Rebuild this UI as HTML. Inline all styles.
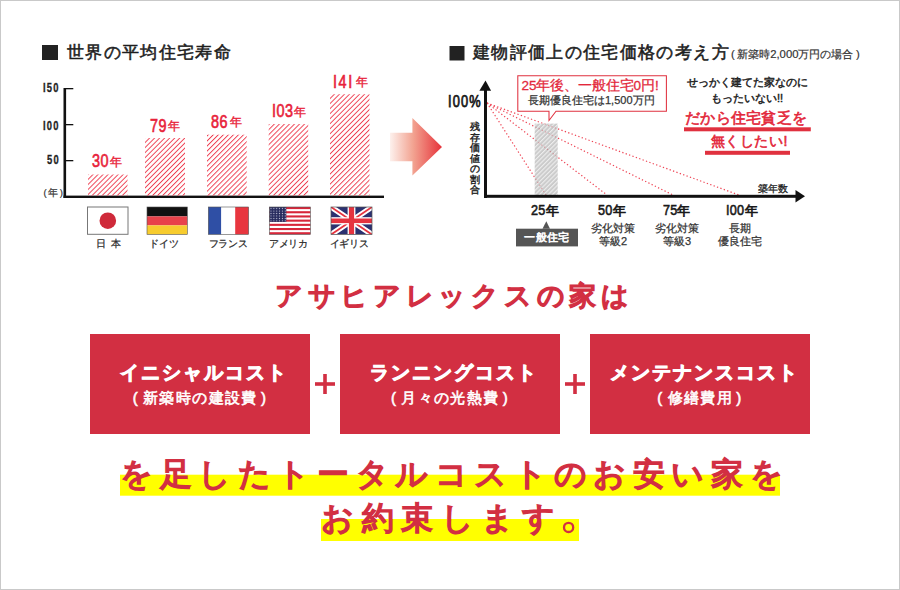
<!DOCTYPE html>
<html lang="ja">
<head>
<meta charset="utf-8">
<style>
html,body{margin:0;padding:0;background:#fff;}
body{width:900px;height:590px;position:relative;overflow:hidden;font-family:"Liberation Sans",sans-serif;}
#frame{position:absolute;left:0;top:0;width:900px;height:590px;box-sizing:border-box;border:1px solid #c9c9c9;}
.t{position:absolute;white-space:nowrap;line-height:1;}
svg{position:absolute;left:0;top:0;}
.red{color:#d22f42;}
.pl{margin-right:4px;font-weight:normal;}
.pr{margin-left:3px;font-weight:normal;}
.dg{font-weight:bold;color:#1e1e1e;-webkit-text-stroke:0.3px currentColor;transform:scaleX(0.75);transform-origin:0 0;}
.dr{font-size:18px;font-weight:normal;-webkit-text-stroke:0.65px currentColor;color:#e8223a;transform:scaleX(0.8);transform-origin:0 0;letter-spacing:0.6px;}
.nen{font-size:12px;color:#e8223a;-webkit-text-stroke:0.4px currentColor;}
.dk{font-size:14.7px;color:#1a1a1a;-webkit-text-stroke:0.6px currentColor;transform:scaleX(0.86);transform-origin:0 0;letter-spacing:0.3px;}
.nk{font-size:13.2px;color:#1a1a1a;-webkit-text-stroke:0.7px currentColor;}
.fl{text-align:center;font-size:9.8px;color:#2a2a2a;-webkit-text-stroke:0.25px currentColor;letter-spacing:-0.3px;}
.b1{-webkit-text-stroke:0.6px currentColor;}
.b2{-webkit-text-stroke:1px currentColor;}
.b3{-webkit-text-stroke:1.7px currentColor;}
</style>
</head>
<body>
<div id="frame"></div>
<svg width="900" height="590" viewBox="0 0 900 590">
  <defs>
    <pattern id="hatch" patternUnits="userSpaceOnUse" width="3.56" height="5" patternTransform="rotate(45)">
      <rect x="0" y="0" width="0.95" height="5" fill="#ee3d50"/>
    </pattern>
    <pattern id="hatchg" patternUnits="userSpaceOnUse" width="3.05" height="5" patternTransform="rotate(45)">
      <rect x="0" y="0" width="3.05" height="5" fill="#b0b0b0"/>
      <rect x="0" y="0" width="1.1" height="5" fill="#e4e4e4"/>
    </pattern>
    <pattern id="stars" patternUnits="userSpaceOnUse" x="269.6" y="207.4" width="2.85" height="2.45">
      <rect x="0" y="0" width="2.85" height="2.45" fill="#272b5e"/>
      <circle cx="1.4" cy="1.2" r="0.62" fill="#c9cbe0"/>
    </pattern>
    <linearGradient id="arrowg" x1="0" y1="0" x2="1" y2="0">
      <stop offset="0" stop-color="#fdf1ed"/>
      <stop offset="0.45" stop-color="#f2a290"/>
      <stop offset="1" stop-color="#e6323a"/>
    </linearGradient>
  </defs>

  <!-- chart 1 squares -->
  <rect x="42" y="45" width="16" height="15" fill="#222"/>
  <rect x="449.5" y="46" width="15" height="14.5" fill="#222"/>

  <!-- chart 1 axes -->
  <rect x="63.5" y="88" width="2.6" height="110" fill="#111"/>
  <rect x="66" y="88" width="7.3" height="1.3" fill="#111"/>
  <rect x="66" y="124" width="7.3" height="1.3" fill="#111"/>
  <rect x="66" y="160" width="7.3" height="1.3" fill="#111"/>
  <rect x="63.5" y="195.6" width="320.5" height="2.4" fill="#111"/>

  <!-- bars -->
  <rect x="88" y="174.5" width="39.5" height="21.1" fill="url(#hatch)"/>
  <rect x="145" y="138" width="40" height="57.6" fill="url(#hatch)"/>
  <rect x="207" y="134.7" width="39.7" height="60.9" fill="url(#hatch)"/>
  <rect x="268.7" y="124" width="39.5" height="71.6" fill="url(#hatch)"/>
  <rect x="330" y="94.2" width="39.5" height="101.4" fill="url(#hatch)"/>

  <!-- flags -->
  <g>
    <rect x="87.5" y="207" width="40.5" height="27.3" fill="#fff" stroke="#777" stroke-width="1"/>
    <circle cx="107.8" cy="220.7" r="8.3" fill="#cf2a3a"/>
  </g>
  <g>
    <rect x="147" y="207" width="40.3" height="9.4" fill="#111"/>
    <rect x="147" y="216.4" width="40.3" height="9" fill="#e8424a"/>
    <rect x="147" y="225.4" width="40.3" height="9" fill="#f7cc2e"/>
    <rect x="147" y="207" width="40.3" height="27.4" fill="none" stroke="#555" stroke-width="0.6"/>
  </g>
  <g>
    <rect x="208.3" y="207" width="13" height="27.4" fill="#2f4fa5"/>
    <rect x="221.3" y="207" width="13.9" height="27.4" fill="#fff"/>
    <rect x="235.2" y="207" width="13.4" height="27.4" fill="#e8363f"/>
    <rect x="208.3" y="207" width="40.3" height="27.4" fill="none" stroke="#555" stroke-width="0.6"/>
  </g>
  <g id="usa">
    <rect x="269.4" y="207" width="41" height="27.4" fill="#fff"/>
    <rect x="269.4" y="207" width="41" height="2.1" fill="#d7263a"/>
    <rect x="269.4" y="211.2" width="41" height="2.1" fill="#d7263a"/>
    <rect x="269.4" y="215.4" width="41" height="2.1" fill="#d7263a"/>
    <rect x="269.4" y="219.6" width="41" height="2.1" fill="#d7263a"/>
    <rect x="269.4" y="223.8" width="41" height="2.1" fill="#d7263a"/>
    <rect x="269.4" y="228" width="41" height="2.1" fill="#d7263a"/>
    <rect x="269.4" y="232.2" width="41" height="2.2" fill="#d7263a"/>
    <rect x="269.4" y="207" width="16.9" height="14.9" fill="url(#stars)"/>
    <rect x="269.4" y="207" width="41" height="27.4" fill="none" stroke="#555" stroke-width="0.6"/>
  </g>
  <g id="uk">
    <clipPath id="ukc"><rect x="331" y="207" width="41" height="27.6"/></clipPath>
    <g clip-path="url(#ukc)">
      <rect x="331" y="207" width="41" height="27.6" fill="#2b3170"/>
      <path d="M331 207 L372 234.6 M372 207 L331 234.6" stroke="#fff" stroke-width="5.5"/>
      <path d="M331 207 L372 234.6 M372 207 L331 234.6" stroke="#e5333f" stroke-width="1.8"/>
      <rect x="331" y="217.2" width="41" height="7.2" fill="#fff"/>
      <rect x="347.6" y="207" width="7.8" height="27.6" fill="#fff"/>
      <rect x="331" y="218.5" width="41" height="4.6" fill="#e5333f"/>
      <rect x="348.9" y="207" width="5.2" height="27.6" fill="#e5333f"/>
    </g>
    <rect x="331" y="207" width="41" height="27.6" fill="none" stroke="#555" stroke-width="0.7"/>
  </g>

  <!-- arrow -->
  <path d="M390 132.7 H412.4 V118 L442 147 L412.4 175.6 V161.2 H390 Z" fill="url(#arrowg)"/>

  <!-- chart 2 -->
  <g stroke="#ee4555" stroke-width="1.2" stroke-dasharray="1.3 2.3" fill="none">
    <line x1="487" y1="103" x2="546" y2="195"/>
    <line x1="487" y1="103" x2="607" y2="195"/>
    <line x1="487" y1="103" x2="673" y2="195"/>
    <line x1="487" y1="103" x2="739" y2="195"/>
  </g>
  <rect x="534.7" y="123.6" width="23" height="72" fill="url(#hatchg)" opacity="0.66"/>
  <rect x="484" y="89" width="3" height="109" fill="#111"/>
  <path d="M479.4 90.8 L485.5 80.6 L491.1 90.8 Z" fill="#111"/>
  <rect x="484" y="194.8" width="314" height="3" fill="#111"/>
  <path d="M795.5 190 L805 196.3 L795.5 202.5 Z" fill="#111"/>

  <!-- callout -->
  <path d="M517.8 75.8 H666.4 V111.3 H556 L549 120.5 V111.3 H517.8 Z" fill="#fff" stroke="#e0313f" stroke-width="1.05"/>

  <!-- gray label -->
  <rect x="516" y="228.7" width="62" height="17.7" fill="#555"/>
  <path d="M542.5 228.8 L546.3 221.3 L550 228.8 Z" fill="#555"/>

  <!-- underlines -->
  <rect x="684" y="127.3" width="126.8" height="4" fill="#e0313f"/>
  <rect x="705" y="150.8" width="85" height="4" fill="#e0313f"/>

  <!-- boxes -->
  <rect x="90" y="334" width="220" height="100" fill="#d22f42"/>
  <rect x="340" y="334" width="220" height="100" fill="#d22f42"/>
  <rect x="590" y="334" width="220" height="100" fill="#d22f42"/>
  <!-- plus -->
  <rect x="315" y="382.2" width="20" height="3.6" fill="#d22f42"/>
  <rect x="323.2" y="374" width="3.6" height="20" fill="#d22f42"/>
  <rect x="565" y="382.2" width="20" height="3.6" fill="#d22f42"/>
  <rect x="573.2" y="374" width="3.6" height="20" fill="#d22f42"/>

  <!-- yellow highlights -->
  <rect x="120" y="474.7" width="660" height="21" fill="#ffff00"/>
  <rect x="321" y="519" width="258" height="22" fill="#ffff00"/>
  <circle cx="568.6" cy="527.4" r="4.6" fill="none" stroke="#d22f42" stroke-width="2.3"/>
</svg>

<!-- titles -->
<div class="t" style="left:67px;top:44px;font-size:17px;letter-spacing:1.35px;color:#1e1e1e;-webkit-text-stroke:0.55px currentColor;">世界の平均住宅寿命</div>
<div class="t" style="left:473px;top:44px;font-size:17px;letter-spacing:1.35px;color:#1e1e1e;-webkit-text-stroke:0.55px currentColor;">建物評価上の住宅価格の考え方<span style="font-size:11.3px;letter-spacing:0;font-weight:normal;-webkit-text-stroke:0.2px currentColor;color:#333;"><span style="margin:0 2.5px 0 1px">(</span>新築時2,000万円の場合<span style="margin-left:2.5px">)</span></span></div>


<!-- chart1 labels -->
<div class="t dg" style="left:42.5px;top:81.5px;font-size:12.5px;letter-spacing:1.6px;">I50</div>
<div class="t dg" style="left:42.5px;top:119.5px;font-size:12.5px;letter-spacing:1.6px;">I00</div>
<div class="t dg" style="left:47.3px;top:153.5px;font-size:12.5px;letter-spacing:1.6px;">50</div>
<div class="t" style="left:43.5px;top:187.5px;font-size:9.5px;color:#333;-webkit-text-stroke:0.2px currentColor;"><span style="margin-right:1.5px">(</span>年<span style="margin-left:1.5px">)</span></div>

<div class="t dr" style="left:92px;top:152.2px;">30</div><div class="t nen" style="left:110px;top:155.8px;">年</div>
<div class="t dr" style="left:150.2px;top:116.8px;">79</div><div class="t nen" style="left:167.8px;top:119.8px;">年</div>
<div class="t dr" style="left:211.3px;top:113px;">86</div><div class="t nen" style="left:229.6px;top:116.2px;">年</div>
<div class="t dr" style="left:271.6px;top:101.8px;">I03</div><div class="t nen" style="left:294px;top:105.6px;">年</div>
<div class="t dr" style="left:333px;top:72.8px;letter-spacing:2px;">I4I</div><div class="t nen" style="left:355.7px;top:75.8px;">年</div>
<div class="t fl" style="left:88.5px;width:41px;top:239px;letter-spacing:1.2px;">日&nbsp;本</div>
<div class="t fl" style="left:143.5px;width:41px;top:239px;">ドイツ</div>
<div class="t fl" style="left:207.5px;width:41px;top:239px;">フランス</div>
<div class="t fl" style="left:268px;width:41px;top:239px;">アメリカ</div>
<div class="t fl" style="left:328.5px;width:41px;top:239px;">イギリス</div>

<!-- chart2 labels -->
<div class="t" style="left:447.5px;top:93.6px;font-size:15.6px;letter-spacing:1.4px;-webkit-text-stroke:0.75px #1a1a1a;color:#1a1a1a;transform:scaleX(0.82);transform-origin:0 0;">I00%</div>
<div class="t" style="left:470px;top:122px;font-size:10px;-webkit-text-stroke:0.4px currentColor;color:#222;width:11px;line-height:10.5px;white-space:normal;">残存価値の割合</div>

<div class="t dk" style="left:531px;top:203.3px;">25</div><div class="t nk" style="left:545.6px;top:203.8px;">年</div>
<div class="t dk" style="left:598.3px;top:203.3px;">50</div><div class="t nk" style="left:612.6px;top:203.8px;">年</div>
<div class="t dk" style="left:662.5px;top:203.3px;">75</div><div class="t nk" style="left:677px;top:203.8px;">年</div>
<div class="t dk" style="left:725.5px;top:203.3px;">I00</div><div class="t nk" style="left:744.6px;top:203.8px;">年</div>
<div class="t b1" style="left:516px;width:62px;text-align:center;top:231.5px;font-size:11px;color:#fff;letter-spacing:0.4px;">一般住宅</div>
<div class="t" style="left:583px;width:60px;text-align:center;top:222px;font-size:11px;line-height:12.5px;color:#333;-webkit-text-stroke:0.25px currentColor;">劣化対策<br>等級2</div>
<div class="t" style="left:647px;width:60px;text-align:center;top:222px;font-size:11px;line-height:12.5px;color:#333;-webkit-text-stroke:0.25px currentColor;">劣化対策<br>等級3</div>
<div class="t" style="left:710px;width:60px;text-align:center;top:222px;font-size:11px;line-height:12.5px;color:#333;-webkit-text-stroke:0.25px currentColor;">長期<br>優良住宅</div>
<div class="t" style="left:757.5px;top:184px;font-size:10.3px;-webkit-text-stroke:0.3px currentColor;color:#222;">築年数</div>

<div class="t" style="left:521.5px;top:79px;font-size:13.5px;color:#e3283b;-webkit-text-stroke:0.3px currentColor;letter-spacing:-0.1px;">25年後、一般住宅0円!</div>
<div class="t" style="left:528px;top:95px;font-size:11px;color:#333;-webkit-text-stroke:0.25px currentColor;">長期優良住宅は1,500万円</div>

<div class="t" style="left:686.5px;top:77.2px;font-size:11px;letter-spacing:0px;-webkit-text-stroke:0.45px currentColor;color:#222;">せっかく建てた家なのに</div>
<div class="t" style="left:711px;top:92.5px;font-size:11px;-webkit-text-stroke:0.45px currentColor;color:#222;">もったいない!!</div>
<div class="t" style="left:685px;top:109.5px;font-size:15px;letter-spacing:0.3px;color:#e3283b;-webkit-text-stroke:0.6px currentColor;">だから住宅貧乏を</div>
<div class="t" style="left:711px;top:134px;font-size:14px;letter-spacing:0.4px;color:#e3283b;-webkit-text-stroke:0.6px currentColor;">無くしたい<span style="margin-left:0.5px;letter-spacing:0">!</span></div>

<!-- heading -->
<div class="t red" style="left:275px;top:282.5px;font-size:27px;letter-spacing:4.7px;-webkit-text-stroke:1.8px currentColor;">アサヒアレックスの家は</div>

<!-- box texts -->
<div class="t b2" style="left:90px;width:220px;text-align:center;top:363px;font-size:19px;font-weight:bold;color:#fff;letter-spacing:2px;text-indent:8px;">イニシャルコスト</div>
<div class="t b1" style="left:90px;width:220px;text-align:center;top:390px;font-size:15px;color:#fff;letter-spacing:1.4px;"><span class="pl">(</span>新築時の建設費<span class="pr">)</span></div>
<div class="t b2" style="left:340px;width:220px;text-align:center;top:363px;font-size:19px;font-weight:bold;color:#fff;letter-spacing:2px;text-indent:8px;">ランニングコスト</div>
<div class="t b1" style="left:340px;width:220px;text-align:center;top:390px;font-size:15px;color:#fff;letter-spacing:1.4px;"><span class="pl">(</span>月々の光熱費<span class="pr">)</span></div>
<div class="t b2" style="left:590px;width:220px;text-align:center;top:363px;font-size:19px;font-weight:bold;color:#fff;letter-spacing:2px;text-indent:8px;">メンテナンスコスト</div>
<div class="t b1" style="left:590px;width:220px;text-align:center;top:390px;font-size:15px;color:#fff;letter-spacing:1.4px;"><span class="pl">(</span>修繕費用<span class="pr">)</span></div>

<!-- bottom -->
<div class="t red b3" style="left:120px;top:457.5px;font-size:32px;letter-spacing:6.6px;">を足したトータルコストのお安い家を</div>
<div class="t red b3" style="left:321px;top:501.5px;font-size:32px;letter-spacing:7.5px;">お約束します</div>
</body>
</html>
